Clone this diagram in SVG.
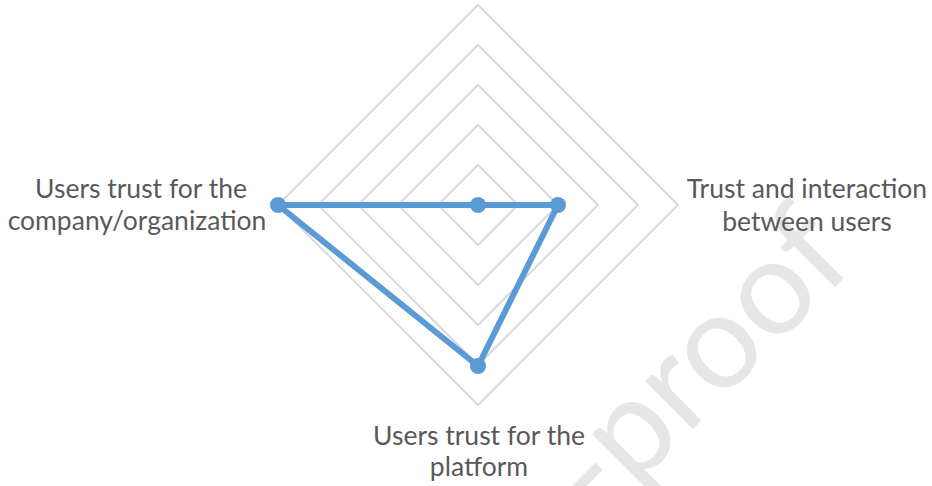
<svg xmlns="http://www.w3.org/2000/svg" width="932" height="486" viewBox="0 0 932 486">
<style>
.grid{fill:none;stroke:#d9d9d9;stroke-width:2}
.lbl{font-family:Lato,"Liberation Sans",sans-serif;font-size:26.5px;fill:#595959;text-anchor:middle}
.series{fill:none;stroke:#5b9bd5;stroke-width:6;stroke-linejoin:round}
.dot{fill:#5b9bd5}
.wm{font-family:Lato,"Liberation Sans",sans-serif;font-size:134px;fill:#e6e6e6}
</style>
<rect width="932" height="486" fill="#ffffff"/>
<g id="watermark">
<text class="wm" transform="translate(598,524) rotate(-45)">-proof</text>
</g>
<g id="grid">
<polygon class="grid" points="478,165 518,205 478,245 438,205"/>
<polygon class="grid" points="478,125 558,205 478,285 398,205"/>
<polygon class="grid" points="478,85 598,205 478,325 358,205"/>
<polygon class="grid" points="478,45 638,205 478,365 318,205"/>
<polygon class="grid" points="478,5 678,205 478,405 278,205"/>
</g>
<g id="connectors">
<polygon class="series" points="478,205 558,205 478,366 278,205"/>
</g>
<g id="node-center"><circle class="dot" cx="478" cy="205" r="8"/></g>
<g id="node-interaction">
<circle class="dot" cx="558" cy="205" r="8"/>
<text class="lbl" x="807" y="198">Trust and interaction</text>
<text class="lbl" x="807" y="231">between users</text>
</g>
<g id="node-platform">
<circle class="dot" cx="478" cy="366" r="8"/>
<text class="lbl" x="479" y="445">Users trust for the</text>
<text class="lbl" x="479" y="476">platform</text>
</g>
<g id="node-company">
<circle class="dot" cx="278" cy="205" r="8"/>
<text class="lbl" x="141" y="198">Users trust for the</text>
<text class="lbl" x="137" y="230">company/organization</text>
</g>
</svg>
